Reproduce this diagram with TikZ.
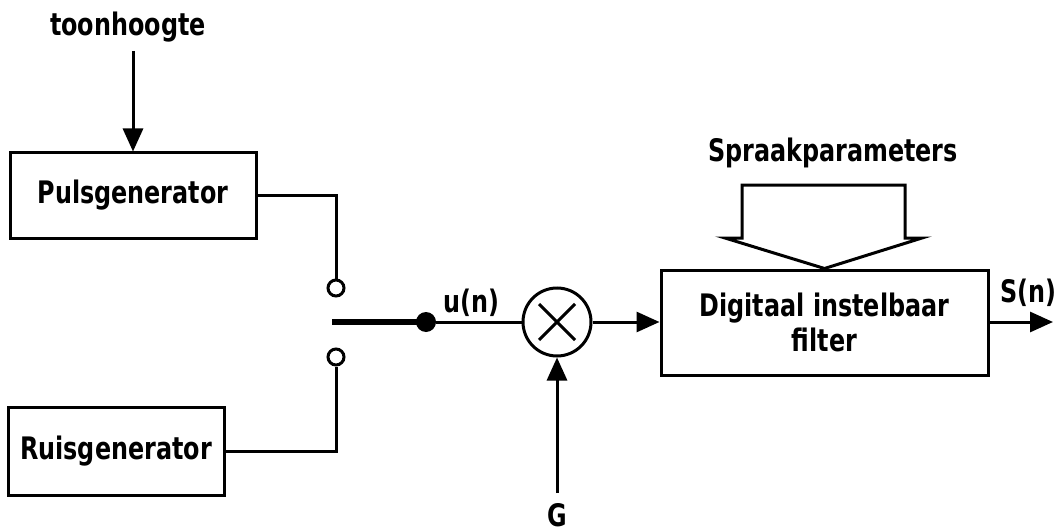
\documentclass[tikz,border=0pt]{standalone}
\usepackage{fontspec}
\setmainfont[FakeStretch=0.77]{DejaVu Sans}
\usetikzlibrary{arrows.meta}
\begin{document}
\begin{tikzpicture}[x=1pt,y=-1pt,
  every node/.style={font=\bfseries\fontsize{31}{35}\selectfont},
  blk/.style={draw, line width=3pt, inner sep=0pt},
  wire/.style={line width=3pt},
  arr/.style={wire,-{Triangle[length=23pt,width=20pt]}},
  hole/.style={draw, circle, line width=3pt, minimum size=16pt, inner sep=0pt},
  lbl/.style={inner sep=0pt}
]
\useasboundingbox (0,0) rectangle (1060,532);
% blocks
\node[blk, minimum width=246pt, minimum height=85pt] (puls) at (133,195.5) {Pulsgenerator};
\node[blk, minimum width=216pt, minimum height=88pt] (ruis) at (116,451) {Ruisgenerator};
\node[blk, minimum width=327pt, minimum height=105pt, align=center] (filt) at (824.5,322.5) {Digitaal instelbaar\\filter};
% labels
\node[lbl] (toon) at (128,27) {toonhoogte};
\node[lbl] (sp) at (833,153) {Spraakparameters};
\node[lbl] (un) at (471,303) {u(n)};
\node[lbl] (sn) at (1028,293) {S(n)};
\node[lbl] (G) at (557,515) {G};
% switch
\node[hole] (c1) at (336,288) {};
\node[hole] (c2) at (336,357) {};
\node[circle, fill, minimum size=20pt, inner sep=0pt] (dot) at (426,322) {};
\coordinate (sw) at (332,322);
% multiplier
\node[draw, circle, wire, minimum size=68pt, inner sep=0pt] (mul) at (557,322) {};
\draw[wire] ([shift={(-18,-18)}]mul.center) -- ([shift={(18,18)}]mul.center);
\draw[wire] ([shift={(-18,18)}]mul.center) -- ([shift={(18,-18)}]mul.center);
% coordinates
\coordinate (t1) at (133,51);
\coordinate (g1) at (557,493);
\coordinate (out) at (1053,322);
% connectors
\draw[arr] (t1) -- (puls.north);
\draw[wire] (puls.east) -| (c1.north);
\draw[wire] (c2.south) |- (ruis.east);
\draw[line width=6pt] (sw) -- (dot.center);
\draw[wire] (dot) -- (mul.west);
\draw[arr] (mul.east) -- (mul.east -| filt.west);
\draw[arr] (g1) -- (mul.south);
\draw[arr] (mul.east -| filt.east) -- (out);
% wide arrow
\draw[wire, line join=miter] (742,185) -- (905,185) -- (905,238) -- (922,238) -- (filt.north) -- (725,238) -- (742,238) -- cycle;
\end{tikzpicture}
\end{document}
